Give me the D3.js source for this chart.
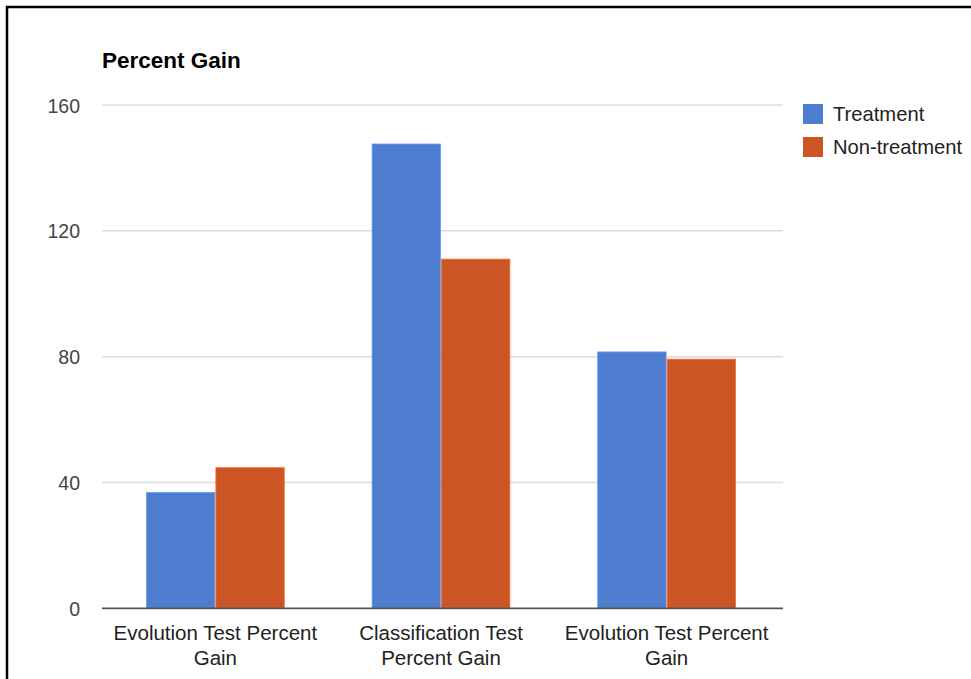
<!DOCTYPE html>
<html>
<head>
<meta charset="utf-8">
<script src="https://cdn.jsdelivr.net/npm/d3@7"></script>
<style>
  html, body { margin: 0; padding: 0; background: #fff; }
  svg { display: block; }
  text { font-family: "Liberation Sans", Arial, sans-serif; }
</style>
</head>
<body>
<script>
// Chart data
const categories = [
  ["Evolution Test Percent", "Gain"],
  ["Classification Test", "Percent Gain"],
  ["Evolution Test Percent", "Gain"]
];
const seriesNames = ["Treatment", "Non-treatment"];
const treatment = [36.8, 147.6, 81.5];
const nonTreatment = [44.7, 111, 79.2];
const yTicks = [0, 40, 80, 120, 160];
const colors = ["#4e7ccf", "#cc5526"];
const title = "Percent Gain";

const W = 971, H = 679;
const svg = d3.select("body").append("svg").attr("width", W).attr("height", H);

// Frame around the chart
svg.append("rect")
  .attr("x", 7).attr("y", 7).attr("width", W + 20).attr("height", H + 20)
  .attr("fill", "#fff").attr("stroke", "#000").attr("stroke-width", 2.5);

const plot = { left: 102, right: 783, top: 105, bottom: 608.3 };

const x0 = d3.scaleBand()
  .domain(d3.range(categories.length))
  .range([plot.left, plot.left + 678])
  .paddingInner(0.385).paddingOuter(0.195);
const x1 = d3.scaleBand()
  .domain(d3.range(seriesNames.length))
  .range([0, x0.bandwidth()])
  .padding(0);
const y = d3.scaleLinear().domain([0, 160]).range([plot.bottom, plot.top]);

// Gridlines
svg.append("g").selectAll("line")
  .data(yTicks.filter(t => t !== 0))
  .join("line")
  .attr("x1", plot.left).attr("x2", plot.right)
  .attr("y1", d => y(d)).attr("y2", d => y(d))
  .attr("stroke", "#dcdcdc").attr("stroke-width", 1.5);

// Y axis labels
const yAxis = d3.axisLeft(y).tickValues(yTicks).tickSize(0).tickPadding(0);
const yg = svg.append("g").attr("transform", `translate(80,0)`).call(yAxis);
yg.select(".domain").remove();
yg.selectAll("text")
  .attr("font-size", 19.5).attr("fill", "#444")
  .attr("font-family", "Liberation Sans, Arial, sans-serif")
  .attr("dy", "0.36em");

// Bars
const values = seriesNames.map((s, i) => i === 0 ? treatment : nonTreatment);
const groups = svg.append("g").selectAll("g")
  .data(categories.map((c, i) => i))
  .join("g")
  .attr("transform", i => `translate(${x0(i)},0)`);
groups.selectAll("rect")
  .data(i => values.map((v, s) => ({ s, v: v[i] })))
  .join("rect")
  .attr("x", d => x1(d.s) + 0.5)
  .attr("width", x1.bandwidth() - 1)
  .attr("y", d => y(d.v))
  .attr("height", d => y(0) - y(d.v))
  .attr("fill", d => colors[d.s])
  .attr("stroke", d => d3.color(colors[d.s]).brighter(0.6))
  .attr("stroke-width", 0.8);

// Baseline
svg.append("line")
  .attr("x1", plot.left).attr("x2", plot.right)
  .attr("y1", y(0)).attr("y2", y(0))
  .attr("stroke", "#555").attr("stroke-width", 1.8);

// Category labels
const xg = svg.append("g");
categories.forEach((lines, i) => {
  const cx = x0(i) + x0.bandwidth() / 2;
  const t = xg.append("text")
    .attr("x", cx)
    .attr("y", 640)
    .attr("text-anchor", "middle")
    .attr("font-size", 20.5).attr("fill", "#222");
  lines.forEach((ln, k) => {
    t.append("tspan").attr("x", cx)
      .attr("dy", k === 0 ? 0 : 25).text(ln);
  });
});

// Title
svg.append("text")
  .attr("x", 102).attr("y", 68)
  .attr("font-size", 22.5).attr("font-weight", "bold").attr("fill", "#000")
  .text(title);

// Legend
const legend = svg.append("g").selectAll("g")
  .data(seriesNames)
  .join("g")
  .attr("transform", (d, i) => `translate(803,${104 + i * 33})`);
legend.append("rect")
  .attr("width", 20).attr("height", 20)
  .attr("fill", (d, i) => colors[i]);
legend.append("text")
  .attr("x", 30).attr("y", 10).attr("dy", "0.36em")
  .attr("font-size", 20.2).attr("fill", "#222")
  .text(d => d);
</script>
</body>
</html>
